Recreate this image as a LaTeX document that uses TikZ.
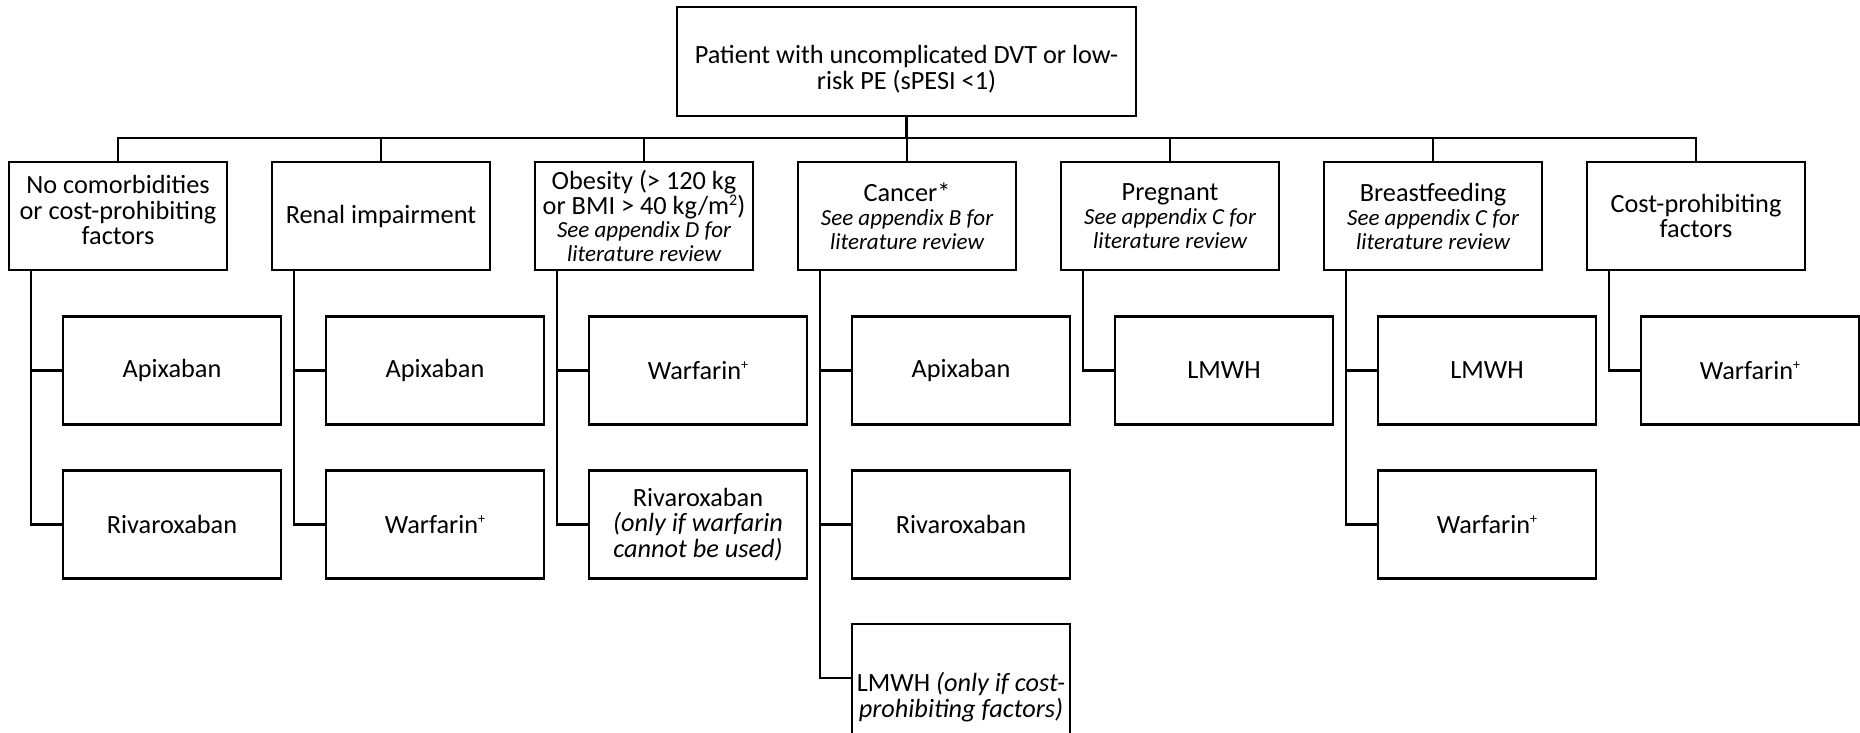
\documentclass[tikz,border=0pt]{standalone}
\usepackage{fontspec}
\setmainfont{Carlito}
\newcommand\bigtxt{\fontsize{26.3}{25.5}\selectfont}
\newcommand\smalltxt{\fontsize{23}{23}\selectfont\itshape}
\newcommand\supplus{\raisebox{0.36em}{\fontsize{14}{14}\selectfont +}}
\newcommand\suptwo{\raisebox{0.36em}{\fontsize{16}{16}\selectfont 2}}
\begin{document}
\begin{tikzpicture}[x=1pt,y=-1pt,
  box/.style={draw=black, line width=2.8pt, minimum width=218pt, minimum height=108pt,
    inner sep=0pt, outer sep=0pt, align=center, font=\bigtxt, text=black},
  conn/.style={draw=black, line width=2.4pt}]
\useasboundingbox (0,0) rectangle (1860,732);

% root
\node[box, minimum width=459pt, minimum height=109pt] (top) at (906.5,61.5)
  {\rule{0pt}{34pt}Patient with uncomplicated DVT or low-\\risk PE (sPESI <1)};

% categories
\node[box] (cat1) at (118,216) {No comorbidities\\or cost-prohibiting\\factors\rule[-12pt]{0pt}{12pt}};
\node[box] (cat2) at (381,216) {Renal impairment};
\node[box] (cat3) at (644,216) {Obesity (> 120 kg\\or BMI > 40 kg/m\suptwo)\\[-3pt]{\smalltxt See appendix D for}\\[-1pt]{\smalltxt literature review}};
\node[box] (cat4) at (907,216) {Cancer*\\[-1pt]{\smalltxt See appendix B for}\\[-2pt]{\smalltxt literature review}};
\node[box] (cat5) at (1170,216) {Pregnant\\[-1pt]{\smalltxt See appendix C for}\\[-2pt]{\smalltxt literature review}};
\node[box] (cat6) at (1433,216) {Breastfeeding\\[-1pt]{\smalltxt See appendix C for}\\[-2pt]{\smalltxt literature review}};
\node[box] (cat7) at (1696,216) {Cost-prohibiting\\factors};

% treatments
\node[box] (a1) at (172,370.5) {Apixaban};
\node[box] (b1) at (172,524.5) {Rivaroxaban};
\node[box] (a2) at (435,370.5) {Apixaban};
\node[box] (b2) at (435,524.5) {Warfarin\supplus};
\node[box] (a3) at (698,370.5) {Warfarin\supplus};
\node[box] (b3) at (698,524.5) {Rivaroxaban\\{\itshape (only if warfarin}\\{\itshape cannot be used)}};
\node[box] (a4) at (961,370.5) {Apixaban};
\node[box] (b4) at (961,524.5) {Rivaroxaban};
\node[box, minimum height=146pt] (c4) at (961,697) {LMWH {\itshape (only if cost-}\\{\itshape prohibiting factors)}};
\node[box] (a5) at (1224,370.5) {LMWH};
\node[box] (a6) at (1487,370.5) {LMWH};
\node[box] (b6) at (1487,524.5) {Warfarin\supplus};
\node[box] (a7) at (1750,370.5) {Warfarin\supplus};

% bus
\coordinate (bus) at (906.5,138);
\draw[conn] (top.south) -- (bus);
\foreach \c in {cat1,cat2,cat3,cat4,cat5,cat6,cat7}
  \draw[conn] (\c.north) |- (bus);

% spines
\draw[conn] ([xshift=22pt]cat1.south west) |- (a1.west);
\draw[conn] ([xshift=22pt]cat1.south west) |- (b1.west);
\draw[conn] ([xshift=22pt]cat2.south west) |- (a2.west);
\draw[conn] ([xshift=22pt]cat2.south west) |- (b2.west);
\draw[conn] ([xshift=22pt]cat3.south west) |- (a3.west);
\draw[conn] ([xshift=22pt]cat3.south west) |- (b3.west);
\draw[conn] ([xshift=22pt]cat4.south west) |- (a4.west);
\draw[conn] ([xshift=22pt]cat4.south west) |- (b4.west);
\draw[conn] ([xshift=22pt]cat4.south west) |- ([yshift=19pt]c4.west);
\draw[conn] ([xshift=22pt]cat5.south west) |- (a5.west);
\draw[conn] ([xshift=22pt]cat6.south west) |- (a6.west);
\draw[conn] ([xshift=22pt]cat6.south west) |- (b6.west);
\draw[conn] ([xshift=22pt]cat7.south west) |- (a7.west);
\end{tikzpicture}
\end{document}
